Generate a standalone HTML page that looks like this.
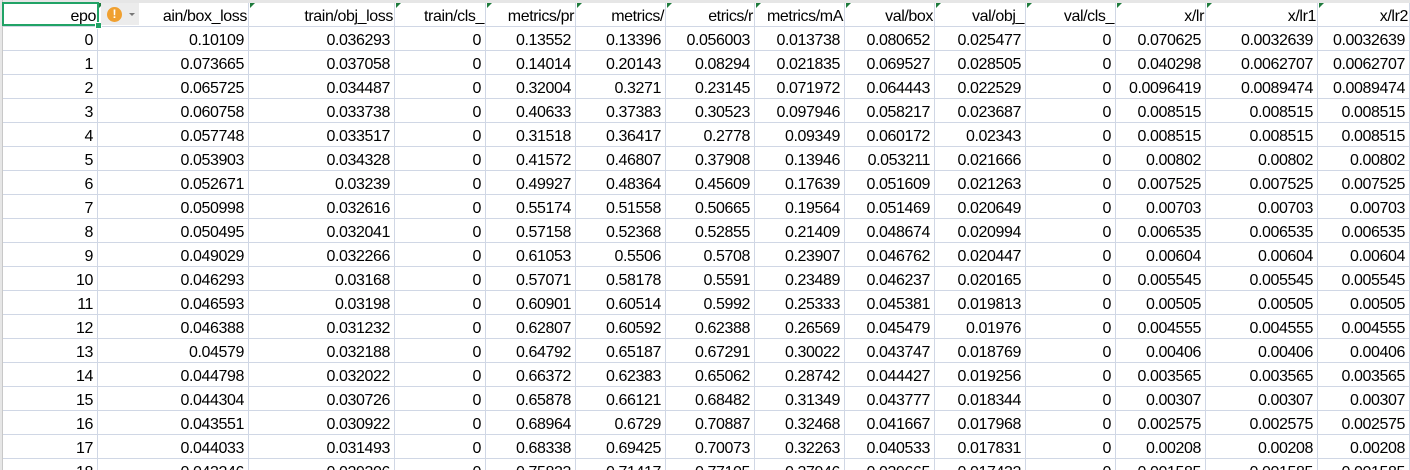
<!DOCTYPE html>
<html><head><meta charset="utf-8"><style>
body{margin:0;width:1410px;height:470px;overflow:hidden;background:#fff;font-family:"Liberation Sans",sans-serif;}
#sheet{position:absolute;left:0;top:0;width:1410px;height:470px;overflow:hidden;}
.c{position:absolute;box-sizing:border-box;border-right:1px solid #d0d7e5;border-bottom:1px solid #d0d7e5;font-size:16px;padding-top:5px;line-height:18px;text-align:right;padding-right:4px;white-space:nowrap;overflow:hidden;color:#000;letter-spacing:-0.4px;}
.h{padding-right:1px;}
.tri{position:absolute;width:0;height:0;border-top:5px solid #1e7b3c;border-right:5px solid transparent;}
</style></head><body>
<div id="sheet">
<div style="position:absolute;left:0;top:0;width:1410px;height:3px;background:#e6e6e6"></div>
<div style="position:absolute;left:0;top:0;width:2px;height:470px;background:#e6e6e6;border-right:1px solid #c8c8c8"></div>
</div>
<script>
const headers=["epo","ain/box_loss","train/obj_loss","train/cls_","metrics/pr","metrics/","etrics/r","metrics/mA","val/box","val/obj_","val/cls_","x/lr","x/lr1","x/lr2"];
const rows=[
["0","0.10109","0.036293","0","0.13552","0.13396","0.056003","0.013738","0.080652","0.025477","0","0.070625","0.0032639","0.0032639"],
["1","0.073665","0.037058","0","0.14014","0.20143","0.08294","0.021835","0.069527","0.028505","0","0.040298","0.0062707","0.0062707"],
["2","0.065725","0.034487","0","0.32004","0.3271","0.23145","0.071972","0.064443","0.022529","0","0.0096419","0.0089474","0.0089474"],
["3","0.060758","0.033738","0","0.40633","0.37383","0.30523","0.097946","0.058217","0.023687","0","0.008515","0.008515","0.008515"],
["4","0.057748","0.033517","0","0.31518","0.36417","0.2778","0.09349","0.060172","0.02343","0","0.008515","0.008515","0.008515"],
["5","0.053903","0.034328","0","0.41572","0.46807","0.37908","0.13946","0.053211","0.021666","0","0.00802","0.00802","0.00802"],
["6","0.052671","0.03239","0","0.49927","0.48364","0.45609","0.17639","0.051609","0.021263","0","0.007525","0.007525","0.007525"],
["7","0.050998","0.032616","0","0.55174","0.51558","0.50665","0.19564","0.051469","0.020649","0","0.00703","0.00703","0.00703"],
["8","0.050495","0.032041","0","0.57158","0.52368","0.52855","0.21409","0.048674","0.020994","0","0.006535","0.006535","0.006535"],
["9","0.049029","0.032266","0","0.61053","0.5506","0.5708","0.23907","0.046762","0.020447","0","0.00604","0.00604","0.00604"],
["10","0.046293","0.03168","0","0.57071","0.58178","0.5591","0.23489","0.046237","0.020165","0","0.005545","0.005545","0.005545"],
["11","0.046593","0.03198","0","0.60901","0.60514","0.5992","0.25333","0.045381","0.019813","0","0.00505","0.00505","0.00505"],
["12","0.046388","0.031232","0","0.62807","0.60592","0.62388","0.26569","0.045479","0.01976","0","0.004555","0.004555","0.004555"],
["13","0.04579","0.032188","0","0.64792","0.65187","0.67291","0.30022","0.043747","0.018769","0","0.00406","0.00406","0.00406"],
["14","0.044798","0.032022","0","0.66372","0.62383","0.65062","0.28742","0.044427","0.019256","0","0.003565","0.003565","0.003565"],
["15","0.044304","0.030726","0","0.65878","0.66121","0.68482","0.31349","0.043777","0.018344","0","0.00307","0.00307","0.00307"],
["16","0.043551","0.030922","0","0.68964","0.6729","0.70887","0.32468","0.041667","0.017968","0","0.002575","0.002575","0.002575"],
["17","0.044033","0.031493","0","0.68338","0.69425","0.70073","0.32263","0.040533","0.017831","0","0.00208","0.00208","0.00208"],
["18","0.043246","0.029306","0","0.75823","0.71417","0.77105","0.37946","0.039665","0.017432","0","0.001585","0.001585","0.001585"]];
const colX=[3,98,249,395,486,576,666,755,845,935,1026,1116,1206,1318,1410];
const sheet=document.getElementById('sheet');
const top0=3,rh=24,hh=24;
function cell(c,r,txt){
  const d=document.createElement('div');
  d.className=r<0?'c h':'c';
  
  
  d.style.left=colX[c]+'px';
  d.style.width=(colX[c+1]-colX[c])+'px';
  const y=r<0?top0:top0+hh+r*rh;
  d.style.top=y+'px';
  d.style.height=(r<0?hh:rh)+'px';
  d.textContent=txt;
  sheet.appendChild(d);
}
headers.forEach((h,i)=>cell(i,-1,h));
rows.forEach((row,r)=>row.forEach((v,c)=>cell(c,r,v)));
for(let i=1;i<headers.length;i++){
  const t=document.createElement('div');
  t.className='tri';
  
  
  t.style.left=(colX[i]+1)+'px';t.style.top=(top0)+'px';
  sheet.appendChild(t);
}
</script>
<div style="position:absolute;left:2px;top:2px;width:93px;height:20px;border:2px solid #21a366"></div>
<div style="position:absolute;left:95px;top:22px;width:5px;height:5px;background:#21a366;border:1px solid #fff"></div>
<div style="position:absolute;left:101px;top:3px;width:38px;height:22px;background:#ececec">
<div style="position:absolute;left:6px;top:4px;width:15px;height:15px;border-radius:50%;background:#f0a030;color:#fff;font:bold 12px 'Liberation Sans',sans-serif;text-align:center;line-height:15px">!</div>
<div style="position:absolute;left:28px;top:10px;width:0;height:0;border-left:3px solid transparent;border-right:3px solid transparent;border-top:3px solid #777"></div>
</div>
</body></html>
